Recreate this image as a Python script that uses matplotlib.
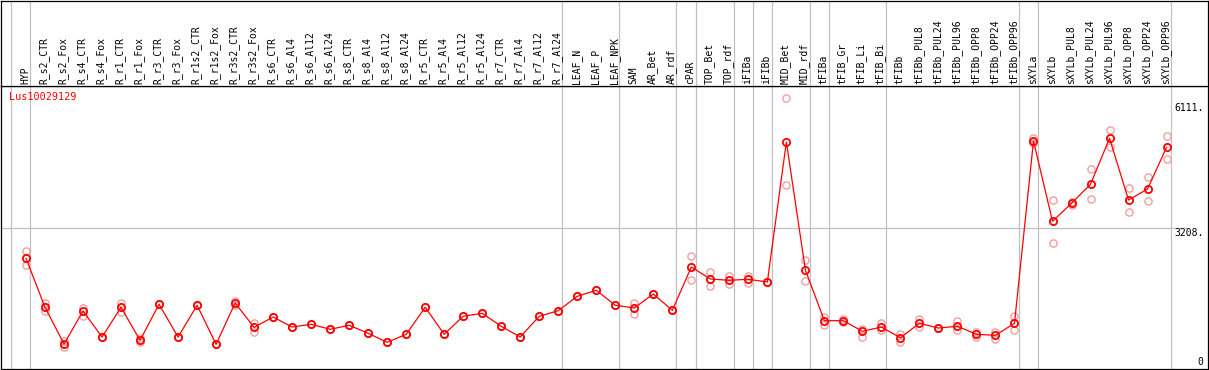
import matplotlib
matplotlib.use("Agg")
import matplotlib.pyplot as plt

# sample names along the top
samples = ["HYP",
           "R_s2_CTR", "R_s2_Fox", "R_s4_CTR", "R_s4_Fox", "R_r1_CTR", "R_r1_Fox",
           "R_r3_CTR", "R_r3_Fox", "R_r1s2_CTR", "R_r1s2_Fox", "R_r3s2_CTR", "R_r3s2_Fox",
           "R_s6_CTR", "R_s6_Al4", "R_s6_Al12", "R_s6_Al24",
           "R_s8_CTR", "R_s8_Al4", "R_s8_Al12", "R_s8_Al24",
           "R_r5_CTR", "R_r5_Al4", "R_r5_Al12", "R_r5_Al24",
           "R_r7_CTR", "R_r7_Al4", "R_r7_Al12", "R_r7_Al24",
           "LEAF_N", "LEAF_P", "LEAF_NPK", "SAM", "AR_Bet", "AR_rdf", "cPAR",
           "TOP_Bet", "TOP_rdf", "iFIBa", "iFIBb", "MID_Bet", "MID_rdf", "tFIBa",
           "tFIB_Gr", "tFIB_Li", "tFIB_Bi", "tFIBb",
           "tFIBb_PUL8", "tFIBb_PUL24", "tFIBb_PUL96", "tFIBb_OPP8", "tFIBb_OPP24", "tFIBb_OPP96",
           "sXYLa", "sXYLb",
           "sXYLb_PUL8", "sXYLb_PUL24", "sXYLb_PUL96", "sXYLb_OPP8", "sXYLb_OPP24", "sXYLb_OPP96"]

# mean expression per sample
means = [2515, 1383, 536, 1298, 697, 1383, 621, 1453, 697, 1430, 529, 1483, 921,
         1159, 928, 991, 875, 968, 783, 575, 760, 1383, 760, 1176, 1245, 945, 697,
         1176, 1305, 1637, 1776, 1430, 1367, 1691, 1314, 2314, 2037, 2007, 2030,
         1968, 5201, 2245, 1074, 1074, 829, 928, 681, 1014, 905, 945, 760, 737,
         1014, 5224, 3370, 3785, 4224, 5286, 3861, 4115, 5079]

# replicate values
rep1 = [2684, 1476, 598, 1367, 697, 1490, 674, 1453, 697, 1430, 529, 1529, 1028,
        1159, 928, 991, 875, 968, 783, 575, 760, 1383, 760, 1176, 1245, 945, 697,
        1176, 1305, 1637, 1776, 1430, 1490, 1691, 1314, 2568, 2192, 2113, 2099,
        1968, 6210, 2476, 1152, 1120, 875, 1028, 767, 1106, 905, 1060, 813, 813,
        1182, 5300, 3855, 3815, 4570, 5478, 4132, 4386, 5339]
rep2 = [2360, 1291, 473, 1189, 697, 1282, 582, 1453, 697, 1430, 529, 1436, 813,
        1159, 928, 991, 875, 968, 783, 575, 760, 1383, 760, 1176, 1245, 945, 697,
        1176, 1305, 1637, 1776, 1430, 1222, 1691, 1314, 2021, 1868, 1921, 1952,
        1968, 4201, 1991, 982, 1044, 704, 859, 589, 921, 905, 852, 704, 651,
        859, 5171, 2875, 3753, 3885, 5092, 3584, 3845, 4801]

# last sample index of each group (separators drawn after these)
group_ends = [-1, 0, 28, 31, 34, 35, 37, 38, 39, 41, 42, 45, 52, 53, 60]

gene = "Lus10029129"
ytick_vals = [6111, 3208, 0]
ytick_text = ["6111.", "3208.", "0"]

W, H = 1209, 370
fig = plt.figure(figsize=(W / 100, H / 100), dpi=100)

x = list(range(len(samples)))
xlim = (-1.315, 62.18)

ax = fig.add_axes([1 / W, 1 / H, 1207 / W, 283 / H])
hd = fig.add_axes([1 / W, 284 / H, 1207 / W, 85.5 / H])

for a in (ax, hd):
    a.set_xlim(*xlim)
    a.set_xticks([])
    a.set_yticks([])
    for s in a.spines.values():
        s.set_linewidth(0.9)
        s.set_color("black")
    for g in group_ends:
        a.axvline(g + 0.22, color="#c0c0c0", lw=0.9, zorder=0)

ax.set_ylim(-41.6, 6494)
hd.set_ylim(86, 0.5)

ax.plot([xlim[0], 61.0], [3208, 3208], color="#c0c0c0", lw=0.9, zorder=0)

ax.plot(x, rep1, "o", ms=5.2, mfc="none", mec="#f0a0a0", mew=1.0, zorder=2)
ax.plot(x, rep2, "o", ms=5.2, mfc="none", mec="#f0a0a0", mew=1.0, zorder=2)
ax.plot(x, means, "-", color="red", lw=0.9, zorder=3)
ax.plot(x, means, "o", ms=5.2, mfc="none", mec="red", mew=1.3, zorder=4)

for v, t in zip(ytick_vals, ytick_text):
    ax.text(61.95, v, t, ha="right", va="bottom" if v == 0 else "top",
            fontsize=7, family="DejaVu Sans Mono")

fig.text(9 / W, 1 - 97.5 / H, gene, color="red", fontsize=7.3,
         family="DejaVu Sans Mono", va="center", ha="left")

for i, name in enumerate(samples):
    hd.text(i - 0.05, 84.5, name, rotation=90, ha="center", va="bottom",
            fontsize=7, family="DejaVu Sans Mono")

fig.savefig("out.png", dpi=100)
